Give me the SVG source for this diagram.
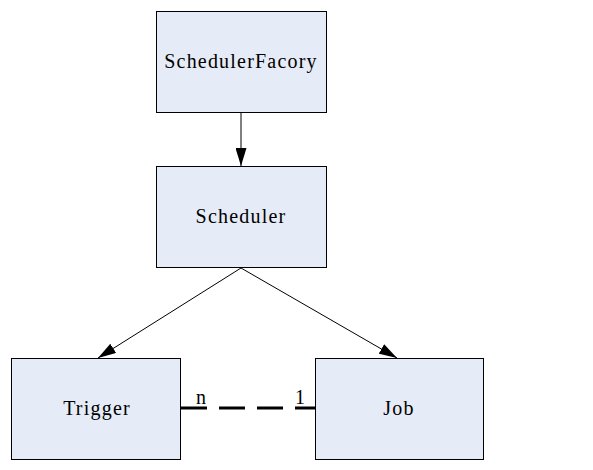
<svg xmlns="http://www.w3.org/2000/svg" width="593" height="470" viewBox="0 0 593 470">
<style>
.box{fill:#e6ecf7;stroke:#000;stroke-width:1}
.lbl{font-family:"Liberation Serif",serif;font-size:20px;letter-spacing:1.2px;text-anchor:middle;fill:#000}
.edge{stroke:#000;stroke-width:1;fill:none}
</style>
<defs>
<marker id="ah" markerWidth="18" markerHeight="11" refX="18" refY="5.5" orient="auto" markerUnits="userSpaceOnUse">
<path d="M0,0 L18,5.5 L0,11 Z" fill="#000"/>
</marker>
</defs>
<rect width="593" height="470" fill="#fff"/>
<g id="connectors">
<line class="edge" x1="241" y1="112" x2="241" y2="166" marker-end="url(#ah)"/>
<line class="edge" x1="241" y1="268" x2="98" y2="358" marker-end="url(#ah)"/>
<line class="edge" x1="241" y1="268" x2="397" y2="358" marker-end="url(#ah)"/>
<line x1="181" y1="408" x2="315" y2="408" stroke="#000" stroke-width="3" stroke-dasharray="26 12"/>
<text class="lbl" x="201" y="404" style="letter-spacing:0">n</text>
<text class="lbl" x="300" y="404" style="letter-spacing:0">1</text>
</g>
<g id="SchedulerFacory">
<rect class="box" x="156.5" y="11.5" width="170" height="101"/>
<text class="lbl" x="241" y="68">SchedulerFacory</text>
</g>
<g id="Scheduler">
<rect class="box" x="156.5" y="166.5" width="170" height="101"/>
<text class="lbl" x="241" y="223">Scheduler</text>
</g>
<g id="Trigger">
<rect class="box" x="11.5" y="358.5" width="169" height="101"/>
<text class="lbl" x="97" y="415">Trigger</text>
</g>
<g id="Job">
<rect class="box" x="315.5" y="358.5" width="168" height="101"/>
<text class="lbl" x="399" y="415">Job</text>
</g>
</svg>
